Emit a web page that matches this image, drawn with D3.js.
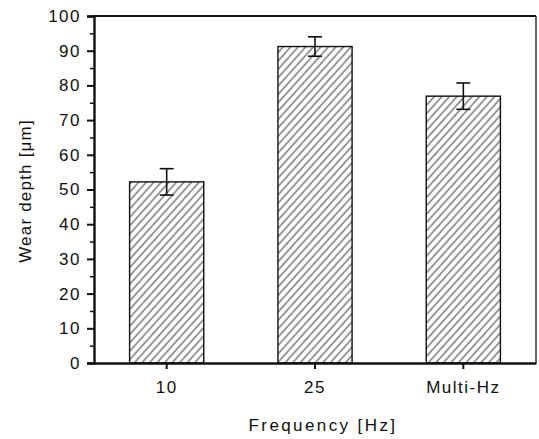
<!DOCTYPE html>
<html><head><meta charset="utf-8">
<script src="https://cdn.jsdelivr.net/npm/d3@7"></script>
<style>body{margin:0;background:#fff}svg{display:block}text{font-family:"Liberation Sans",Arial,sans-serif;fill:#111}</style>
</head><body>
<svg id="c" width="539" height="439"></svg>
<script>
const categories = ["10", "25", "Multi-Hz"];
const values = [52.2, 91.2, 76.9];
const errors = [3.8, 2.8, 3.8];
const yTicks = [0, 10, 20, 30, 40, 50, 60, 70, 80, 90, 100];
const yMinorTicks = [5, 15, 25, 35, 45, 55, 65, 75, 85, 95];

const L = 94, R = 536, T = 16, B = 363;
const svg = d3.select("#c");
const x = d3.scaleBand().domain(categories).range([L, R]).paddingInner(0.5).paddingOuter(0.24);
const y = d3.scaleLinear().domain([0, 100]).range([B, T]);

const defs = svg.append("defs");
const pat = defs.append("pattern").attr("id", "hatch").attr("patternUnits", "userSpaceOnUse")
  .attr("width", 5.6).attr("height", 10).attr("patternTransform", "rotate(42)");
pat.append("line").attr("x1", 1).attr("x2", 1).attr("y1", 0).attr("y2", 10)
  .attr("stroke", "#1a1a1a").attr("stroke-width", 0.9);

// bars
svg.selectAll("rect.bar").data(values).join("rect").attr("class", "bar")
  .attr("x", (d, i) => x(categories[i])).attr("width", x.bandwidth())
  .attr("y", d => y(d)).attr("height", d => B - y(d))
  .attr("fill", "url(#hatch)").attr("stroke", "#111").attr("stroke-width", 1.4);

// error bars
const eb = svg.append("g").attr("stroke", "#111").attr("stroke-width", 1.6);
values.forEach((v, i) => {
  const cx = x(categories[i]) + x.bandwidth() / 2;
  eb.append("line").attr("x1", cx).attr("x2", cx).attr("y1", y(v + errors[i])).attr("y2", y(v - errors[i]));
  eb.append("line").attr("x1", cx - 7).attr("x2", cx + 7).attr("y1", y(v + errors[i])).attr("y2", y(v + errors[i]));
  eb.append("line").attr("x1", cx - 7).attr("x2", cx + 7).attr("y1", y(v - errors[i])).attr("y2", y(v - errors[i]));
});

// frame
svg.append("line").attr("x1", L).attr("x2", R).attr("y1", T).attr("y2", T).attr("stroke", "#111").attr("stroke-width", 2);
svg.append("line").attr("x1", R).attr("x2", R).attr("y1", T).attr("y2", B).attr("stroke", "#111").attr("stroke-width", 1.3);

// y axis
const yAxis = d3.axisLeft(y).tickValues(yTicks).tickSize(7).tickPadding(6).tickFormat(d3.format("d"));
const gy = svg.append("g").attr("transform", `translate(${L},0)`).call(yAxis);
gy.select(".domain").attr("stroke", "#111").attr("stroke-width", 2.4);
gy.selectAll(".tick line").attr("stroke", "#111").attr("stroke-width", 2);
gy.selectAll(".tick text").attr("font-size", 17).attr("letter-spacing", 1.5).attr("font-family", "Liberation Sans, Arial, sans-serif").attr("fill", "#111");
const gym = svg.append("g").attr("transform", `translate(${L},0)`)
  .call(d3.axisLeft(y).tickValues(yMinorTicks).tickSize(4).tickFormat(""));
gym.select(".domain").remove();
gym.selectAll(".tick line").attr("stroke", "#111").attr("stroke-width", 1.5);

// x axis
const xAxis = d3.axisBottom(x).tickSize(6).tickPadding(12).tickSizeOuter(0);
const gx = svg.append("g").attr("transform", `translate(0,${B})`).call(xAxis);
gx.select(".domain").attr("stroke", "#111").attr("stroke-width", 2.4);
gx.selectAll(".tick line").attr("stroke", "#111").attr("stroke-width", 2);
gx.selectAll(".tick text").attr("font-size", 17).attr("letter-spacing", 1.5).attr("font-family", "Liberation Sans, Arial, sans-serif").attr("fill", "#111");

// axis titles
svg.append("text").attr("x", (L + R) / 2 + 8).attr("y", 431).attr("text-anchor", "middle")
  .attr("font-size", 17).attr("letter-spacing", 2.4).text("Frequency [Hz]");
svg.append("text").attr("transform", "translate(31,191) rotate(-90)").attr("text-anchor", "middle")
  .attr("font-size", 17).attr("letter-spacing", 1.2).attr("fill", "#222").text("Wear depth [μm]");
</script>
</body></html>
